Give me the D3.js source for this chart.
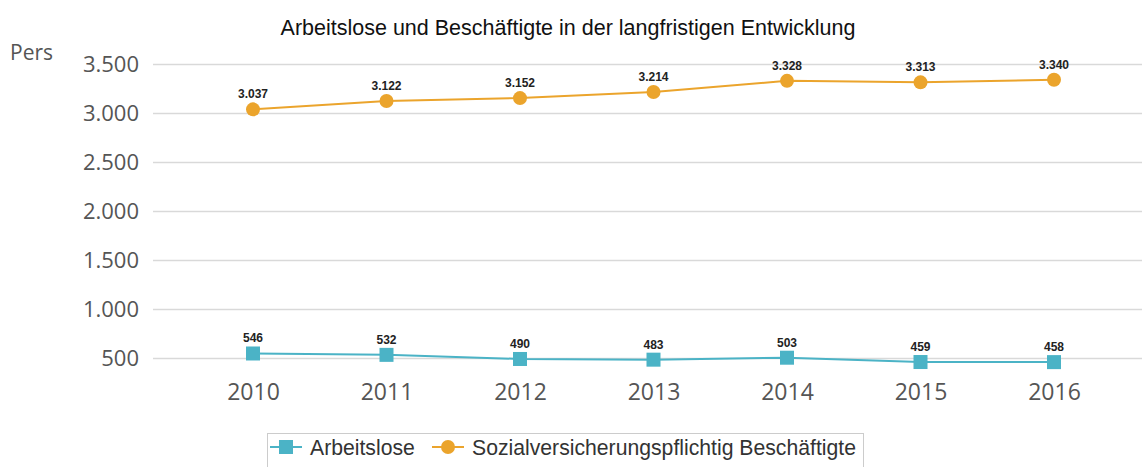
<!DOCTYPE html>
<html>
<head>
<meta charset="utf-8">
<script src="https://cdn.jsdelivr.net/npm/d3@7"></script>
<style>
  body { margin: 0; background: #fff; }
  svg { display: block; }
</style>
</head>
<body>
<div id="chart"></div>
<script>
// data
var years = ['2010', '2011', '2012', '2013', '2014', '2015', '2016']
var arbeitslose = [546, 532, 490, 483, 503, 459, 458]
var beschaeftigte = [3037, 3122, 3152, 3214, 3328, 3313, 3340]
var yTicks = [500, 1000, 1500, 2000, 2500, 3000, 3500]
var seriesNames = ['Arbeitslose', 'Sozialversicherungspflichtig Beschäftigte']

var width = 1142
var height = 467

var svg = d3.select('#chart')
  .append('svg')
  .attr('width', width)
  .attr('height', height)

// scales
var xPositionScale = d3.scalePoint()
  .domain(years)
  .range([253, 1054])

var yPositionScale = d3.scaleLinear()
  .domain([500, 3500])
  .range([358, 64])

var fmt = function(v) {
  return d3.format(',')(v).replace(/,/g, '.')
}

// title
svg.append('text')
  .text('Arbeitslose und Beschäftigte in der langfristigen Entwicklung')
  .attr('x', 568)
  .attr('y', 35)
  .attr('text-anchor', 'middle')
  .attr('font-family', 'Liberation Sans, Arial, sans-serif')
  .attr('font-size', 21.5)
  .attr('fill', '#111')

// unit label
svg.append('text')
  .text('Pers')
  .attr('x', 10)
  .attr('y', 60)
  .attr('font-family', 'Open Sans, sans-serif')
  .attr('font-size', 21)
  .attr('fill', '#555')

// y axis with gridlines
var yAxis = d3.axisLeft(yPositionScale)
  .tickValues(yTicks)
  .tickSize(-(width - 153))
  .tickPadding(14)
  .tickFormat(fmt)

svg.append('g')
  .attr('class', 'axis y-axis')
  .attr('transform', 'translate(153,0)')
  .call(yAxis)
  .call(function(g) {
    g.select('.domain').remove()
    g.selectAll('line').attr('stroke', '#d9d9d9').attr('stroke-width', 1.3)
    g.selectAll('text')
      .attr('font-family', 'Open Sans, sans-serif')
      .attr('font-size', 22)
      .attr('fill', '#555')
  })

// x axis
var xAxis = d3.axisBottom(xPositionScale).tickSize(0).tickPadding(0)

svg.append('g')
  .attr('class', 'axis x-axis')
  .attr('transform', 'translate(0,384)')
  .call(xAxis)
  .call(function(g) {
    g.select('.domain').remove()
    g.selectAll('text')
      .attr('font-family', 'Open Sans, sans-serif')
      .attr('font-size', 23)
      .attr('fill', '#555')
  })

var orange = '#eba42c'
var teal = '#4bb3c6'

var line = d3.line()
  .x(function(d, i) { return xPositionScale(years[i]) })
  .y(function(d) { return yPositionScale(d) })

// orange series
svg.append('path')
  .datum(beschaeftigte)
  .attr('d', line)
  .attr('fill', 'none')
  .attr('stroke', orange)
  .attr('stroke-width', 2)

svg.selectAll('.dot-b')
  .data(beschaeftigte)
  .enter()
  .append('circle')
  .attr('class', 'dot-b')
  .attr('cx', function(d, i) { return xPositionScale(years[i]) })
  .attr('cy', function(d) { return yPositionScale(d) })
  .attr('r', 7)
  .attr('fill', orange)

// teal series
svg.append('path')
  .datum(arbeitslose)
  .attr('d', line)
  .attr('fill', 'none')
  .attr('stroke', teal)
  .attr('stroke-width', 2)

svg.selectAll('.dot-a')
  .data(arbeitslose)
  .enter()
  .append('rect')
  .attr('class', 'dot-a')
  .attr('x', function(d, i) { return xPositionScale(years[i]) - 7 })
  .attr('y', function(d) { return yPositionScale(d) - 7 })
  .attr('width', 14)
  .attr('height', 14)
  .attr('fill', teal)

// value labels
function addLabels(data, cls) {
  svg.selectAll('.' + cls)
    .data(data)
    .enter()
    .append('text')
    .attr('class', cls)
    .text(fmt)
    .attr('x', function(d, i) { return xPositionScale(years[i]) })
    .attr('y', function(d) { return yPositionScale(d) - 11 })
    .attr('text-anchor', 'middle')
    .attr('font-family', 'Liberation Sans, Arial, sans-serif')
    .attr('font-weight', 'bold')
    .attr('font-size', 12)
    .attr('fill', '#222')
}
addLabels(beschaeftigte, 'lab-b')
addLabels(arbeitslose, 'lab-a')

// legend
var legend = svg.append('g').attr('transform', 'translate(267,433)')

legend.append('rect')
  .attr('x', 0.5)
  .attr('y', 0.5)
  .attr('width', 596)
  .attr('height', 40)
  .attr('fill', '#fff')
  .attr('stroke', '#ccc')

var legendItems = [
  { name: seriesNames[0], color: teal, shape: 'square', x: 3, tx: 43 },
  { name: seriesNames[1], color: orange, shape: 'circle', x: 165, tx: 205 }
]

legendItems.forEach(function(item) {
  var g = legend.append('g').attr('transform', 'translate(' + item.x + ',14)')
  g.append('line')
    .attr('x1', 0)
    .attr('x2', 32)
    .attr('stroke', item.color)
    .attr('stroke-width', 2)
  if (item.shape === 'square') {
    g.append('rect')
      .attr('x', 9)
      .attr('y', -7)
      .attr('width', 14)
      .attr('height', 14)
      .attr('fill', item.color)
  } else {
    g.append('circle')
      .attr('cx', 16)
      .attr('r', 7)
      .attr('fill', item.color)
  }
  legend.append('text')
    .text(item.name)
    .attr('x', item.tx)
    .attr('y', 22)
    .attr('font-family', 'Liberation Sans, Arial, sans-serif')
    .attr('font-size', 21.2)
    .attr('fill', '#333')
})
</script>
</body>
</html>
